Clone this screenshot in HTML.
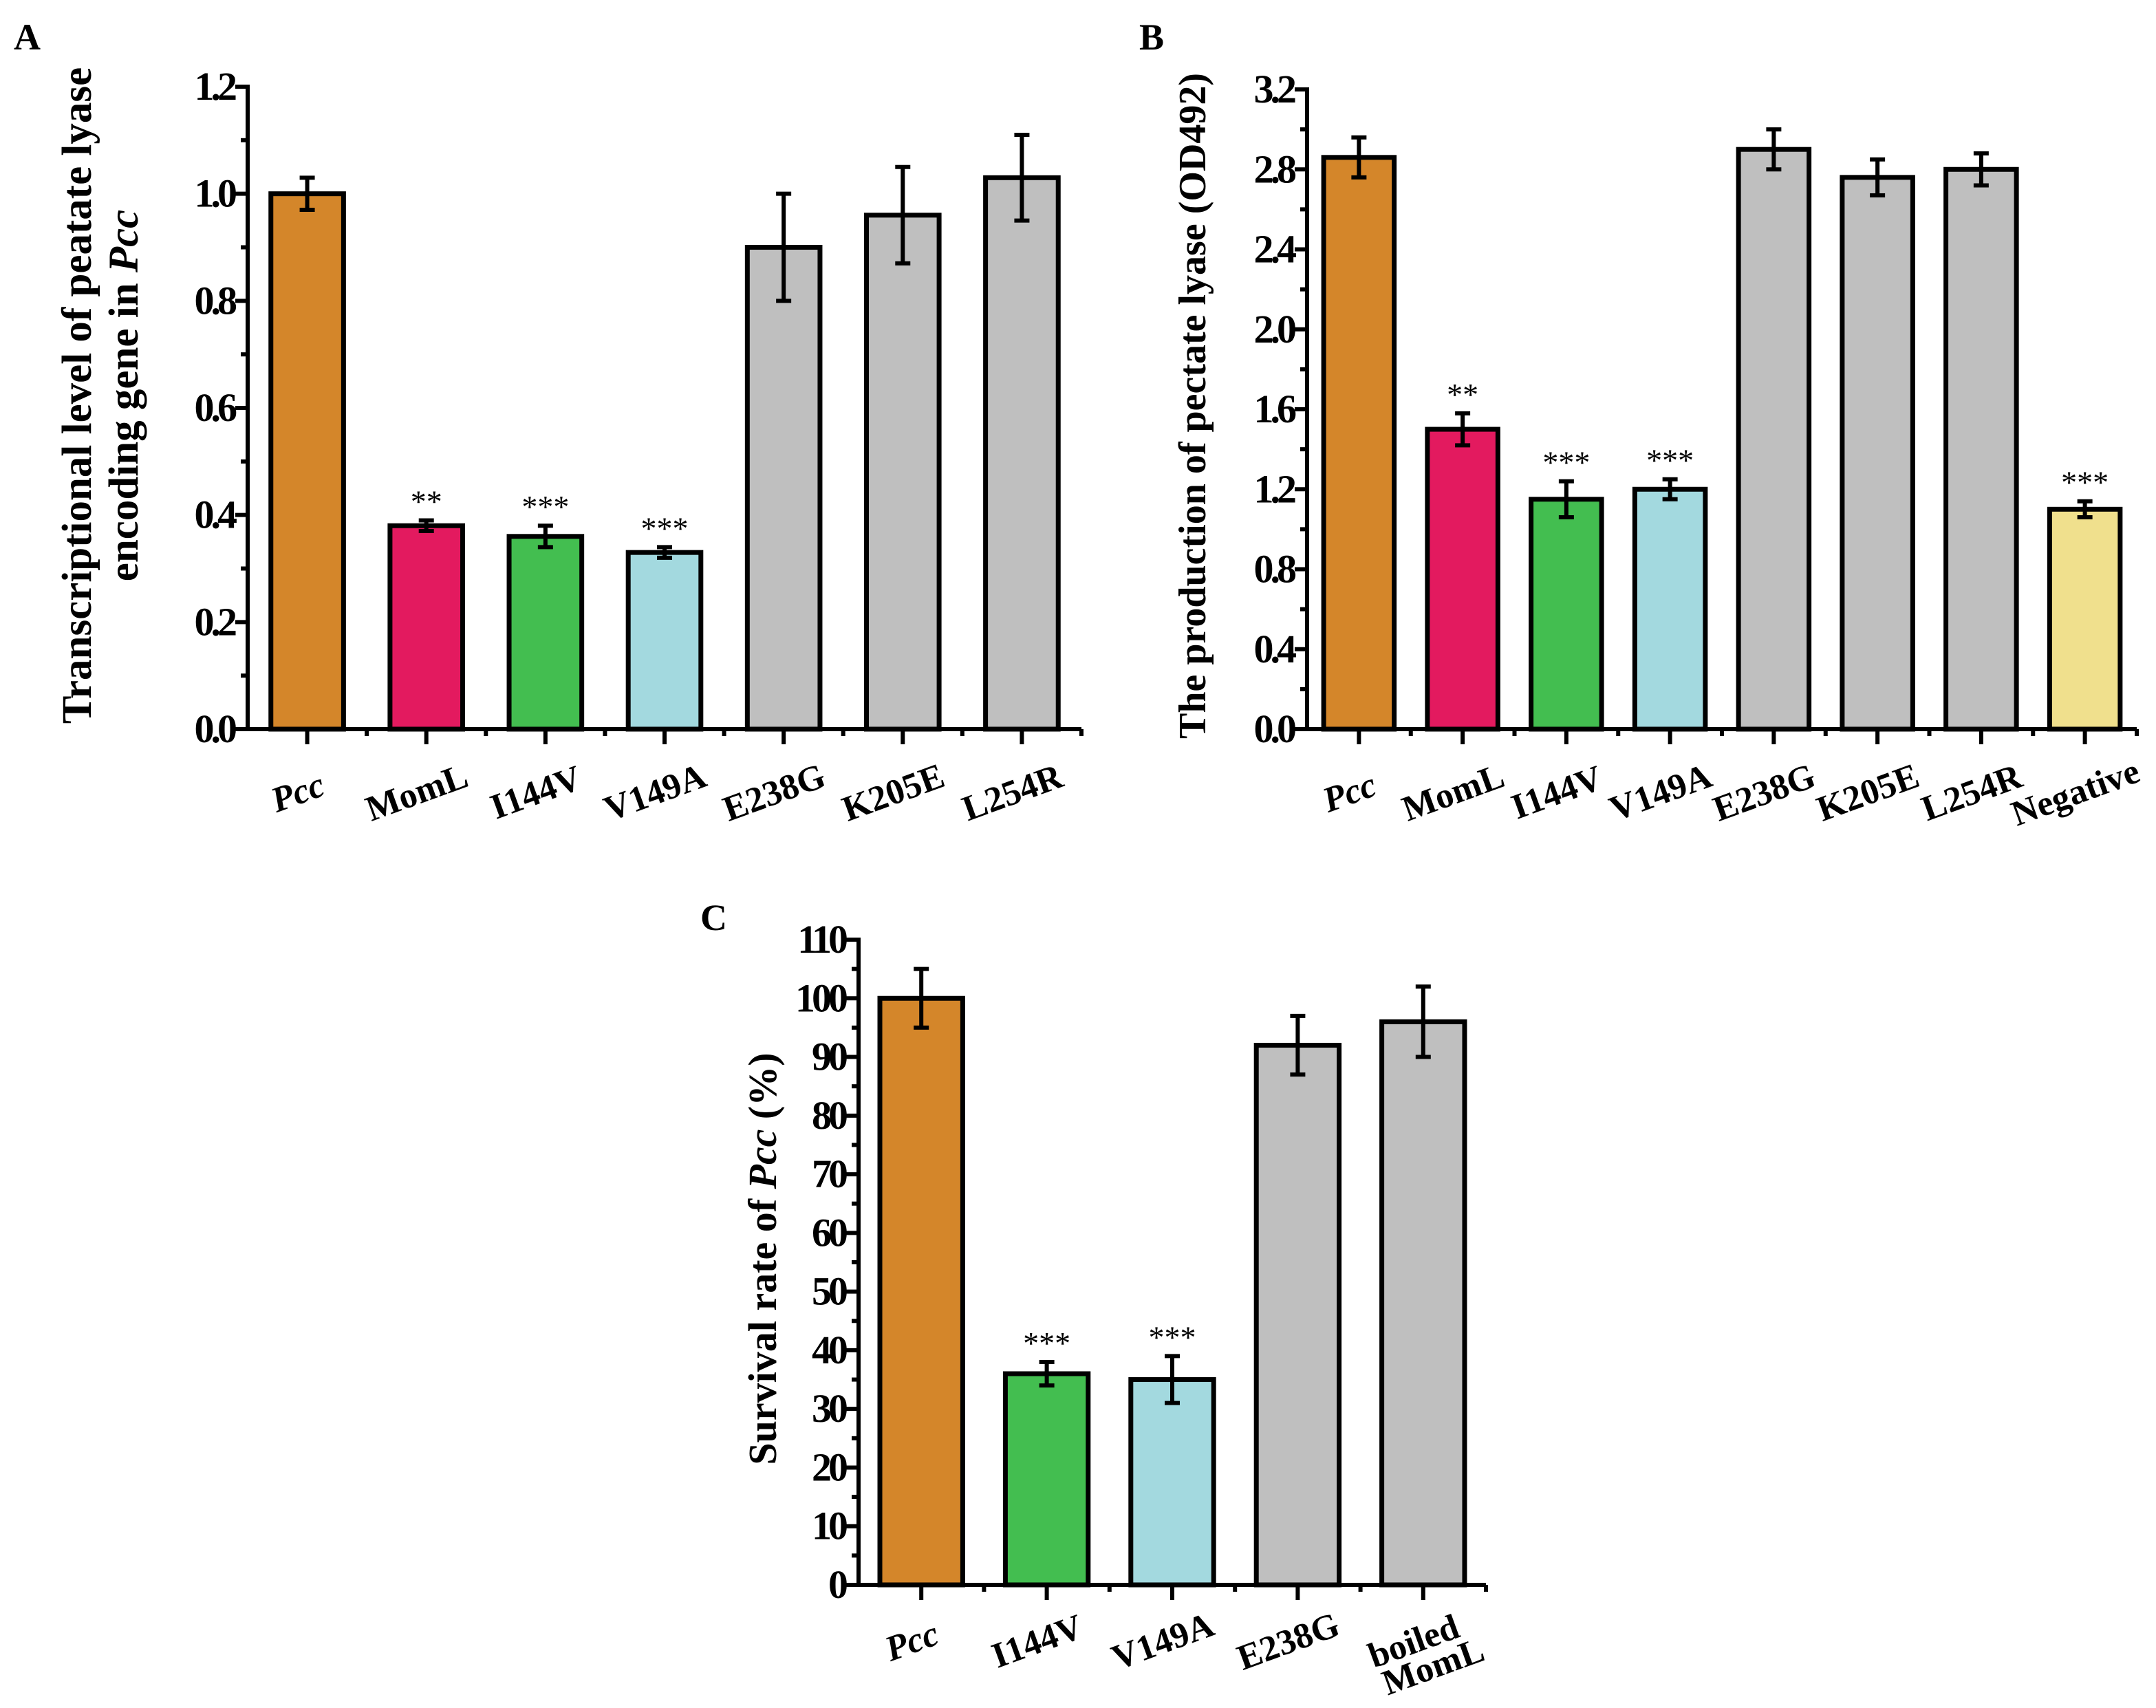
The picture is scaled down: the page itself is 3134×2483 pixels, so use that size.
<!DOCTYPE html>
<html><head><meta charset="utf-8"><style>
html,body{margin:0;padding:0;background:#fff}
svg{display:block;font-family:"Liberation Serif",serif}
</style></head><body>
<svg id="fig" width="3134" height="2483" viewBox="0 0 3134 2483" xmlns="http://www.w3.org/2000/svg">
<rect width="3134" height="2483" fill="#fff"/>
</svg>
<script>
const catsA=["Pcc","MomL","I144V","V149A","E238G","K205E","L254R"];
const valsA=[1.0,0.38,0.36,0.33,0.90,0.96,1.03];
const errsA=[0.03,0.01,0.02,0.01,0.10,0.09,0.08];
const sigA=["","**","***","***","","",""];
const colA=["#D4862A","#E31A5F","#43BE50","#A3D9DF","#BFBFBF","#BFBFBF","#BFBFBF"];
const ticksA=["0.0","0.2","0.4","0.6","0.8","1.0","1.2"];

const catsB=["Pcc","MomL","I144V","V149A","E238G","K205E","L254R","Negative"];
const valsB=[2.86,1.50,1.15,1.20,2.90,2.76,2.80,1.10];
const errsB=[0.10,0.08,0.09,0.05,0.10,0.09,0.08,0.04];
const sigB=["","**","***","***","","","","***"];
const colB=["#D4862A","#E31A5F","#43BE50","#A3D9DF","#BFBFBF","#BFBFBF","#BFBFBF","#F0E08D"];
const ticksB=["0.0","0.4","0.8","1.2","1.6","2.0","2.4","2.8","3.2"];

const catsC=["Pcc","I144V","V149A","E238G","boiled|MomL"];
const valsC=[100,36,35,92,96];
const errsC=[5,2,4,5,6];
const sigC=["","***","***","",""];
const colC=["#D4862A","#43BE50","#A3D9DF","#BFBFBF","#BFBFBF"];
const ticksC=["0","10","20","30","40","50","60","70","80","90","100","110"];

const svg=document.getElementById('fig');
const NS="http://www.w3.org/2000/svg";
function mk(tag,attrs,parent){const e=document.createElementNS(NS,tag);for(const k in attrs)e.setAttribute(k,attrs[k]);(parent||svg).appendChild(e);return e;}

function panel(o){
  const g=mk('g',{});
  
  
  const n=o.cats.length;
  const step=(o.x1-o.x0)/n;
  const xs=i=>o.x0+(i+0.5)*step;
  const ymax=parseFloat(o.ticks[o.ticks.length-1]);
  const ys=v=>o.y0-(v/ymax)*(o.y0-o.yt);
  o.vals.forEach((v,i)=>{
    const bw=step*o.bwf;
    const r=mk('rect',{x:xs(i)-bw/2,y:ys(v),width:bw,height:o.y0-ys(v),fill:o.cols[i],stroke:'#000','stroke-width':7},g);
    
    
    const e=o.errs[i];
    const eg=mk('g',{stroke:'#000','stroke-width':6},g);
    
    
    mk('line',{x1:xs(i),x2:xs(i),y1:ys(v+e),y2:ys(v-e)},eg);
    mk('line',{x1:xs(i)-11,x2:xs(i)+11,y1:ys(v+e),y2:ys(v+e)},eg);
    mk('line',{x1:xs(i)-11,x2:xs(i)+11,y1:ys(v-e),y2:ys(v-e)},eg);
    if(o.sig[i]){
      const t=mk('text',{x:xs(i),y:ys(v+e)-12,'text-anchor':'middle','font-size':46},g);
      t.textContent=o.sig[i];
      
      
    }
  });
  const ax=mk('g',{stroke:'#000','stroke-width':6,fill:'none'},g);
  
  
  mk('line',{x1:o.x0,x2:o.x0,y1:o.yt-3,y2:o.y0+3},ax);
  mk('line',{x1:o.x0-3,x2:o.x1,y1:o.y0,y2:o.y0},ax);
  const nt=o.ticks.length;
  o.ticks.forEach((t,k)=>{
    const v=parseFloat(t);
    const y=ys(v);
    mk('line',{x1:o.x0-18,x2:o.x0,y1:y,y2:y},ax);
    if(k<nt-1){const ym=ys(v+ymax/(nt-1)/2);mk('line',{x1:o.x0-10,x2:o.x0,y1:ym,y2:ym},ax);}
    const tx=mk('text',{x:o.x0-20,y:y+19,'text-anchor':'end','font-size':58,'font-weight':'bold',stroke:'none',fill:'#000','letter-spacing':'-5'},g);
    tx.textContent=t;
    
    
  });
  for(let i=0;i<n;i++){
    mk('line',{x1:xs(i),x2:xs(i),y1:o.y0,y2:o.y0+22},ax);
    mk('line',{x1:o.x0+(i+1)*step,x2:o.x0+(i+1)*step,y1:o.y0,y2:o.y0+10},ax);
    const parts=o.cats[i].split('|');
    const lx=xs(i)-8, ly=o.y0+o.ly;
    const tx=mk('text',{x:lx,y:ly,'text-anchor':'middle','font-size':52,'font-weight':'bold',transform:`rotate(-20 ${lx} ${ly})`},g);
    
    
    if(parts[0]==='Pcc')tx.setAttribute('font-style','italic');
    parts.forEach((p,j)=>{const s=mk('tspan',{x:lx+j*14,dy:j?44:0},tx);s.textContent=p;});
  }
  const tg=mk('text',{'text-anchor':'middle','font-size':o.fs,'font-weight':'bold'},g);
  
  
  o.title(tg);
  const L=mk('text',{x:o.lx,y:o.lyy,'font-size':54,'font-weight':'bold'},g);
  L.textContent=o.letter;
  
  
}
function span(parent,txt,attrs){const s=mk('tspan',attrs||{},parent);s.textContent=txt;return s;}

panel({name:'panel-a',cats:catsA,vals:valsA,errs:errsA,sig:sigA,cols:colA,ticks:ticksA,fs:61,
  x0:360,x1:1572,y0:1060,yt:126,bwf:0.61,ly:108,lx:20,lyy:72,letter:'A',
  title:t=>{t.setAttribute('transform','translate(132 575) rotate(-90)');
    span(t,'Transcriptional level of peatate lyase',{x:0,dy:0});
    span(t,'encoding gene in ',{x:0,dy:68});span(t,'Pcc',{'font-style':'italic'});}});
panel({name:'panel-b',cats:catsB,vals:valsB,errs:errsB,sig:sigB,cols:colB,ticks:ticksB,fs:56,
  x0:1900,x1:3106,y0:1060,yt:130,bwf:0.68,ly:108,lx:1656,lyy:72,letter:'B',
  title:t=>{t.setAttribute('transform','translate(1752 590) rotate(-90)');span(t,'The production of pectate lyase (OD492)');}});
panel({name:'panel-c',cats:catsC,vals:valsC,errs:errsC,sig:sigC,cols:colC,ticks:ticksC,fs:58,
  x0:1248,x1:2160,y0:2304,yt:1366,bwf:0.66,ly:98,lx:1018,lyy:1352,letter:'C',
  title:t=>{t.setAttribute('transform','translate(1128 1830) rotate(-90)');span(t,'Survival rate of ');span(t,'Pcc',{'font-style':'italic'});span(t,' (%)');}});
</script>
</body></html>
